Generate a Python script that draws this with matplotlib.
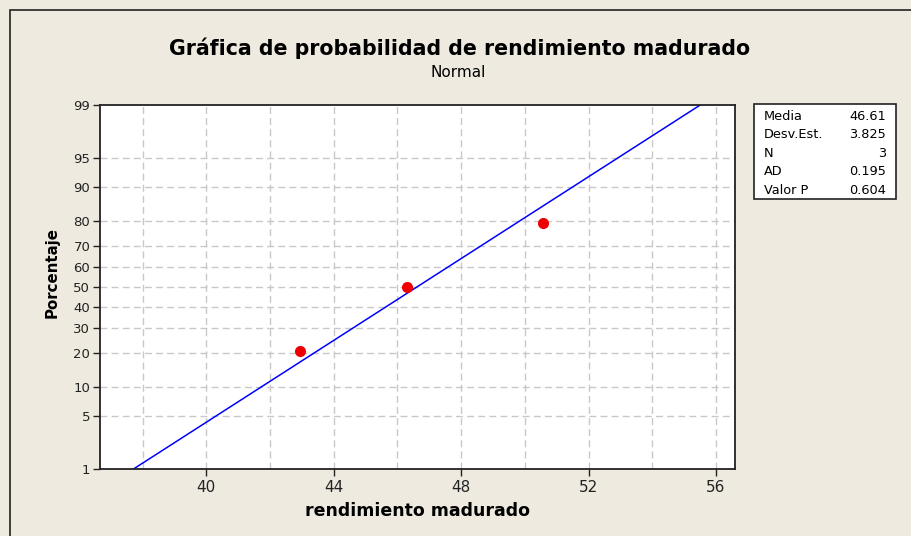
import matplotlib
matplotlib.use("Agg")
import matplotlib.pyplot as plt
from matplotlib.patches import Rectangle
from statistics import NormalDist

# data
rendimiento = [42.95, 46.30, 50.58]
porcentaje = [20.6, 50.0, 79.4]
media = 46.61
desv = 3.825
stat_labels = ["Media", "Desv.Est.", "N", "AD", "Valor P"]
stat_values = ["46.61", "3.825", "3", "0.195", "0.604"]
y_ticks = [1, 5, 10, 20, 30, 40, 50, 60, 70, 80, 90, 95, 99]
x_ticks = [40, 44, 48, 52, 56]
x_grid = [38, 40, 42, 44, 46, 48, 50, 52, 54, 56]

nd = NormalDist()
z = lambda p: nd.inv_cdf(p / 100.0)

W, H = 912, 536
bg = "#EEEAE0"
fig = plt.figure(figsize=(W / 100, H / 100), dpi=100, facecolor=bg)
plt.rcParams["font.family"] = "DejaVu Sans"

# outer frame (clipped at right/bottom)
fig.patches.append(Rectangle((10 / W, -0.1), 1.2, 1 - 10 / H + 0.1,
                             transform=fig.transFigure, fill=False,
                             edgecolor="#222222", lw=1.2))

ax = fig.add_axes([100 / W, (H - 469) / H, 635 / W, 364 / H])
ax.set_facecolor("white")

zlim = z(99)
ax.set_ylim(-zlim, zlim)
ax.set_xlim(36.66, 56.6)

# grid
for g in x_grid:
    ax.axvline(g, color="#C8C8C8", lw=1, ls=(0, (5, 3)), zorder=0)
for t in y_ticks[1:-1]:
    ax.axhline(z(t), color="#C8C8C8", lw=1, ls=(0, (5, 3)), zorder=0)

# fitted line
zs = [-zlim, zlim]
ax.plot([media + desv * v for v in zs], zs, color="#0000FF", lw=1.1, zorder=2)

# points
ax.plot(rendimiento, [z(p) for p in porcentaje], "o", color="#EE0000",
        markersize=8, markeredgewidth=0, zorder=3)

ax.set_yticks([z(t) for t in y_ticks])
ax.set_yticklabels([str(t) for t in y_ticks])
ax.set_xticks(x_ticks)
ax.tick_params(axis="both", direction="out", length=5, width=1,
               color="#222222", labelcolor="#222222")
ax.tick_params(axis="y", pad=2, labelsize=9.5)
ax.tick_params(axis="x", pad=3, labelsize=11)
for s in ax.spines.values():
    s.set_linewidth(1.3)
    s.set_color("#222222")

ax.set_xlabel("rendimiento madurado", fontsize=12.5, fontweight="bold", labelpad=5)
ax.set_ylabel("Porcentaje", fontsize=10.8, fontweight="bold", va="center")
ax.yaxis.set_label_coords(-0.076, 0.54)

fig.text(460 / W, 1 - 55 / H,
         "Gráfica de probabilidad de rendimiento madurado",
         ha="center", va="baseline", fontsize=14.8, fontweight="bold")
fig.text(458 / W, 1 - 77 / H, "Normal",
         ha="center", va="baseline", fontsize=11)

# stats box
bx0, by0, bx1, by1 = 754, 104, 896, 199
fig.patches.append(Rectangle((bx0 / W, 1 - by1 / H), (bx1 - bx0) / W,
                             (by1 - by0) / H, transform=fig.transFigure,
                             facecolor="white", edgecolor="#222222", lw=1.2))
for i, (lab, val) in enumerate(zip(stat_labels, stat_values)):
    yy = 1 - (116.5 + i * 18.5) / H
    fig.text(764 / W, yy, lab, fontsize=9.3, va="center", ha="left")
    fig.text(886 / W, yy, val, fontsize=9.3, va="center", ha="right")

fig.savefig("out.png", dpi=100, facecolor=bg)
